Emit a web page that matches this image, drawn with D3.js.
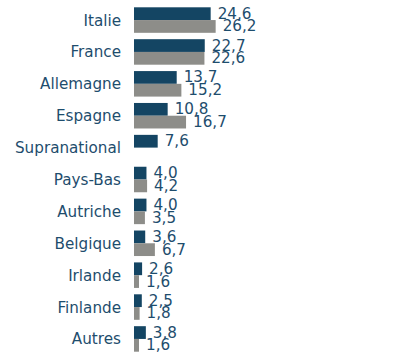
<!DOCTYPE html>
<html>
<head>
<meta charset="utf-8">
<script src="https://cdn.jsdelivr.net/npm/d3@7"></script>
<style>
  html, body { margin: 0; padding: 0; background: #ffffff; }
  svg { display: block; }
  text { font-family: Verdana, "DejaVu Sans", sans-serif; }
</style>
</head>
<body>
<svg id="chart" width="412" height="352"></svg>
<script>
// Country breakdown, two periods (null = no value)
const categories = ["Italie", "France", "Allemagne", "Espagne", "Supranational",
  "Pays-Bas", "Autriche", "Belgique", "Irlande", "Finlande", "Autres"];
const seriesA = [24.6, 22.7, 13.7, 10.8, 7.6, 4.0, 4.0, 3.6, 2.6, 2.5, 3.8];
const seriesB = [26.2, 22.6, 15.2, 16.7, null, 4.2, 3.5, 6.7, 1.6, 1.8, 1.6];
const seriesColors = ["#144563", "#8d8d89"];

const svg = d3.select("#chart");
const fmt = v => d3.format(".1f")(v).replace(".", ",");

const x = d3.scaleLinear().domain([0, 30]).range([134, 227.5]);
const y = d3.scaleBand().domain(categories).range([7.3, 351.7]).paddingInner(0.2).paddingOuter(0);
const sub = d3.scaleBand().domain([0, 1]).range([0, y.bandwidth()]);

const rows = categories.map((c, i) => ({ c, vals: [seriesA[i], seriesB[i]] }));

// category labels
svg.append("g").selectAll("text").data(categories).join("text")
  .attr("x", 121)
  .attr("y", d => y(d) + y.bandwidth() / 2 + 0.5)
  .attr("text-anchor", "end")
  .attr("dominant-baseline", "central")
  .attr("font-size", 15.2)
  .attr("fill", "#1e4d6d")
  .text(d => d);

const groups = svg.append("g").selectAll("g").data(rows).join("g")
  .attr("transform", d => `translate(0,${y(d.c)})`);

const cells = groups.selectAll("g.cell")
  .data(d => d.vals.map((v, k) => ({ v, k })).filter(e => e.v != null))
  .join("g").attr("class", "cell");

cells.append("rect")
  .attr("x", x(0))
  .attr("y", d => sub(d.k))
  .attr("width", d => x(d.v) - x(0))
  .attr("height", sub.bandwidth())
  .attr("fill", d => seriesColors[d.k]);

cells.append("text")
  .attr("x", d => x(d.v) + 7)
  .attr("y", d => sub(d.k) + sub.bandwidth() / 2)
  .attr("dominant-baseline", "central")
  .attr("font-size", 15.2)
  .attr("fill", "#1e4d6d")
  .text(d => fmt(d.v));
</script>
</body>
</html>
